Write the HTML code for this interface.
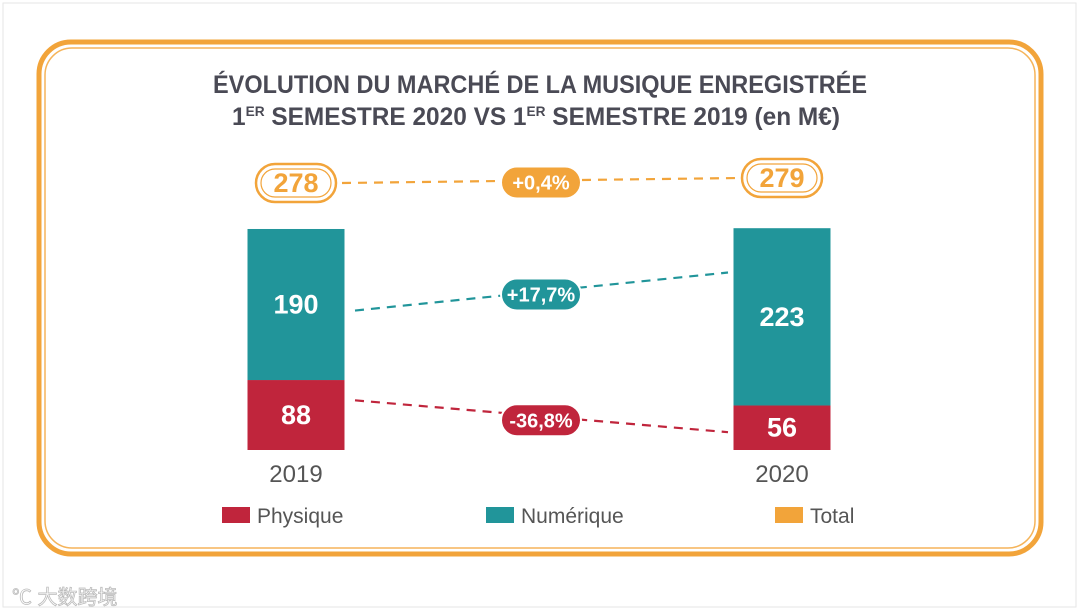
<!DOCTYPE html>
<html><head><meta charset="utf-8"><style>
html,body{margin:0;padding:0;background:#fff;width:1080px;height:614px;overflow:hidden}
svg{display:block}
text{font-family:"Liberation Sans Narrow","Liberation Sans",sans-serif}
</style></head><body>
<svg id="chart" width="1080" height="614" viewBox="0 0 1080 614">
<rect x="3" y="3" width="1073" height="604" fill="#fff" stroke="#e6e6e6"/>
<rect x="39" y="42" width="1002" height="512" rx="32" fill="none" stroke="#f2a43a" stroke-width="5"/>
<rect x="45" y="48" width="990" height="500" rx="27" fill="none" stroke="#f5b45a" stroke-width="1.5"/>
<text x="540" y="93" text-anchor="middle" font-size="25" font-weight="bold" fill="#4a4a55" textLength="654" lengthAdjust="spacingAndGlyphs">ÉVOLUTION DU MARCHÉ DE LA MUSIQUE ENREGISTRÉE</text>
<text x="536" y="125" text-anchor="middle" font-size="25" font-weight="bold" fill="#4a4a55" textLength="608" lengthAdjust="spacingAndGlyphs">1<tspan font-size="14" dy="-9">ER</tspan><tspan dy="9"> SEMESTRE 2020 VS 1</tspan><tspan font-size="14" dy="-9">ER</tspan><tspan dy="9"> SEMESTRE 2019 (en M€)</tspan></text>
<g id="marks"></g>
<text x="12" y="604" font-size="20" fill="#fff" stroke="#bbb" stroke-width="0.8" style="font-family:'Liberation Sans','Noto Sans CJK SC',sans-serif">℃ 大数跨境</text>
</svg>
<script>
const years = ["2019","2020"];
const physique = [88, 56];
const numerique = [190, 223];
const totals = [278, 279];
const changeTotal = "+0,4%";
const changeNum = "+17,7%";
const changePhy = "-36,8%";

const NS="http://www.w3.org/2000/svg";
const g=document.getElementById('marks');
const RED="#c0253c", TEAL="#21959a", ORANGE="#f2a43a";
const base=450, scale=0.795, barW=97;
const xC=[296,782];
const y=v=>base-v*scale;
function el(tag,attrs,txt){const e=document.createElementNS(NS,tag);for(const k in attrs)e.setAttribute(k,attrs[k]);if(txt!=null)e.textContent=txt;g.appendChild(e);return e;}

for(let i=0;i<years.length;i++){
  const x=xC[i]-barW/2;
  let r=el('rect',{x:x,y:y(physique[i]),width:barW,height:physique[i]*scale,fill:RED});
  
  
  r=el('rect',{x:x,y:y(physique[i]+numerique[i]),width:barW,height:numerique[i]*scale,fill:TEAL});
  
  
  let t=el('text',{x:xC[i],y:(y(physique[i])+base)/2+9,'text-anchor':'middle','font-size':27,'font-weight':'bold',fill:'#fff'},physique[i]);
  
  
  t=el('text',{x:xC[i],y:(y(physique[i])+y(physique[i]+numerique[i]))/2+9,'text-anchor':'middle','font-size':27,'font-weight':'bold',fill:'#fff'},numerique[i]);
  
  
  t=el('text',{x:xC[i],y:482,'text-anchor':'middle','font-size':24,fill:'#555',style:"font-family:'Liberation Sans',sans-serif"},years[i]);
  
  
}
const numY=[y(physique[0]+numerique[0]*0.46), y(physique[1]+numerique[1]*0.75)];
const phyY=[y(physique[0]*0.71), y(physique[1]*0.4)];
const totY=[183,178];
function dash(x1,y1,x2,y2,c,name){const l=el('line',{x1:x1,y1:y1,x2:x2,y2:y2,stroke:c,'stroke-width':2.2,'stroke-dasharray':'9 7'});}
dash(342,totY[0],740,totY[1],ORANGE,'total-connector');
dash(355,numY[0],728,numY[1],TEAL,'numerique-connector');
dash(355,phyY[0],728,phyY[1],RED,'physique-connector');
function pill(cx,cy,txt,c,name){
  const r=el('rect',{x:cx-40,y:cy-16,width:80,height:32,rx:16,fill:c,stroke:'#fff','stroke-width':2});
  
  const t=el('text',{x:cx,y:cy+7,'text-anchor':'middle','font-size':20,'font-weight':'bold',fill:'#fff'},txt);
  
}
pill(541,(totY[0]+totY[1])/2+2,changeTotal,ORANGE,'total-change-pill');
pill(541,(numY[0]+numY[1])/2+3,changeNum,TEAL,'numerique-change-pill');
pill(541,(phyY[0]+phyY[1])/2+4,changePhy,RED,'physique-change-pill');
for(let i=0;i<2;i++){
  let r=el('rect',{x:xC[i]-40,y:totY[i]-19,width:80,height:38,rx:19,fill:'#fff',stroke:ORANGE,'stroke-width':2.5});
  
  r=el('rect',{x:xC[i]-35,y:totY[i]-14,width:70,height:28,rx:14,fill:'none',stroke:ORANGE,'stroke-width':1.2});
  
  const t=el('text',{x:xC[i],y:totY[i]+9,'text-anchor':'middle','font-size':27,'font-weight':'bold',fill:ORANGE},totals[i]);
  
}
const leg=[["Physique",RED,222],["Numérique",TEAL,486],["Total",ORANGE,775]];
for(const [n,c,x] of leg){
  const r=el('rect',{x:x,y:507,width:28,height:16,fill:c});
  
  const t=el('text',{x:x+35,y:523,'font-size':21,fill:'#555',style:"font-family:'Liberation Sans',sans-serif"},n);
  
}
</script>
</body></html>
